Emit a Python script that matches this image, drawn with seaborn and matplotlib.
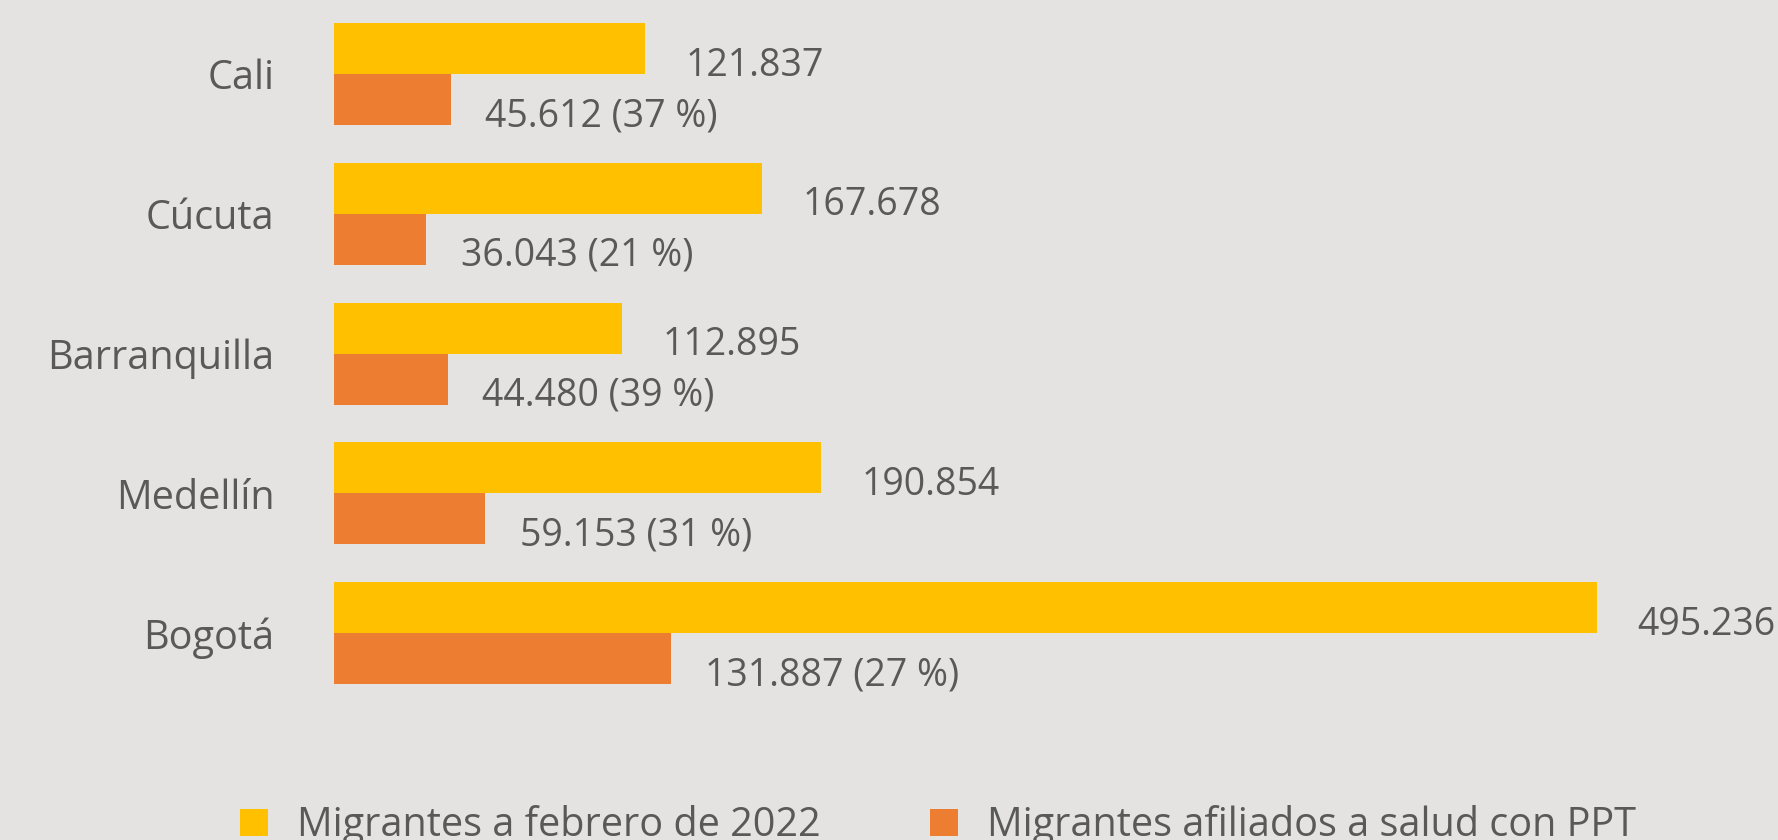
import matplotlib.pyplot as plt
import pandas as pd
import seaborn as sns
from matplotlib.patches import Patch

ciudades = ["Cali", "Cúcuta", "Barranquilla", "Medellín", "Bogotá"]
migrantes = [121837, 167678, 112895, 190854, 495236]
afiliados = [45612, 36043, 44480, 59153, 131887]
porcentajes = [37, 21, 39, 31, 27]
series = ["Migrantes a febrero de 2022", "Migrantes afiliados a salud con PPT"]
colores = ["#FFC000", "#ED7D31"]

df = pd.DataFrame({
    "ciudad": ciudades * 2,
    "valor": migrantes + afiliados,
    "serie": [series[0]] * len(ciudades) + [series[1]] * len(ciudades),
})

def miles(v):
    return f"{v:,}".replace(",", ".")

bg = "#E4E3E1"
txt = "#595959"

sns.set_theme(style="white")
plt.rcParams["font.family"] = ["Open Sans", "DejaVu Sans"]

fig = plt.figure(figsize=(17.78, 8.4), dpi=100, facecolor=bg)
ax = fig.add_axes([0.188, 0.163, 0.812, 0.832])
ax.set_facecolor(bg)

sns.barplot(data=df, y="ciudad", x="valor", hue="serie", orient="h",
            palette=colores, width=0.73, ax=ax, legend=False,
            saturation=1, linewidth=0)

ax.set_xlim(0, 566200)
ax.set_ylim(4.5, -0.5)
ax.set_xlabel("")
ax.set_ylabel("")
ax.set_xticks([])
for s in ax.spines.values():
    s.set_visible(False)
ax.tick_params(axis="y", length=0, pad=43, labelsize=28.5, labelcolor=txt)

# etiquetas de valores
for i, (m, a, p) in enumerate(zip(migrantes, afiliados, porcentajes)):
    ax.annotate(miles(m), (m, i - 0.06), xytext=(29, 0), textcoords="offset points",
                va="center", ha="left", fontsize=27, color=txt)
    ax.annotate(f"{miles(a)} ({p} %)", (a, i + 0.30), xytext=(25, 0),
                textcoords="offset points", va="center", ha="left",
                fontsize=27, color=txt)

handles = [Patch(facecolor=c, edgecolor="none") for c in colores]
fig.legend(handles, series, loc="center left", bbox_to_anchor=(0.115, 0.017),
           ncol=2, frameon=False, fontsize=28.5, labelcolor=txt,
           handlelength=0.7, handleheight=0.7, handletextpad=0.75,
           columnspacing=2.75)

fig.savefig("out.png", dpi=100, facecolor=bg)
